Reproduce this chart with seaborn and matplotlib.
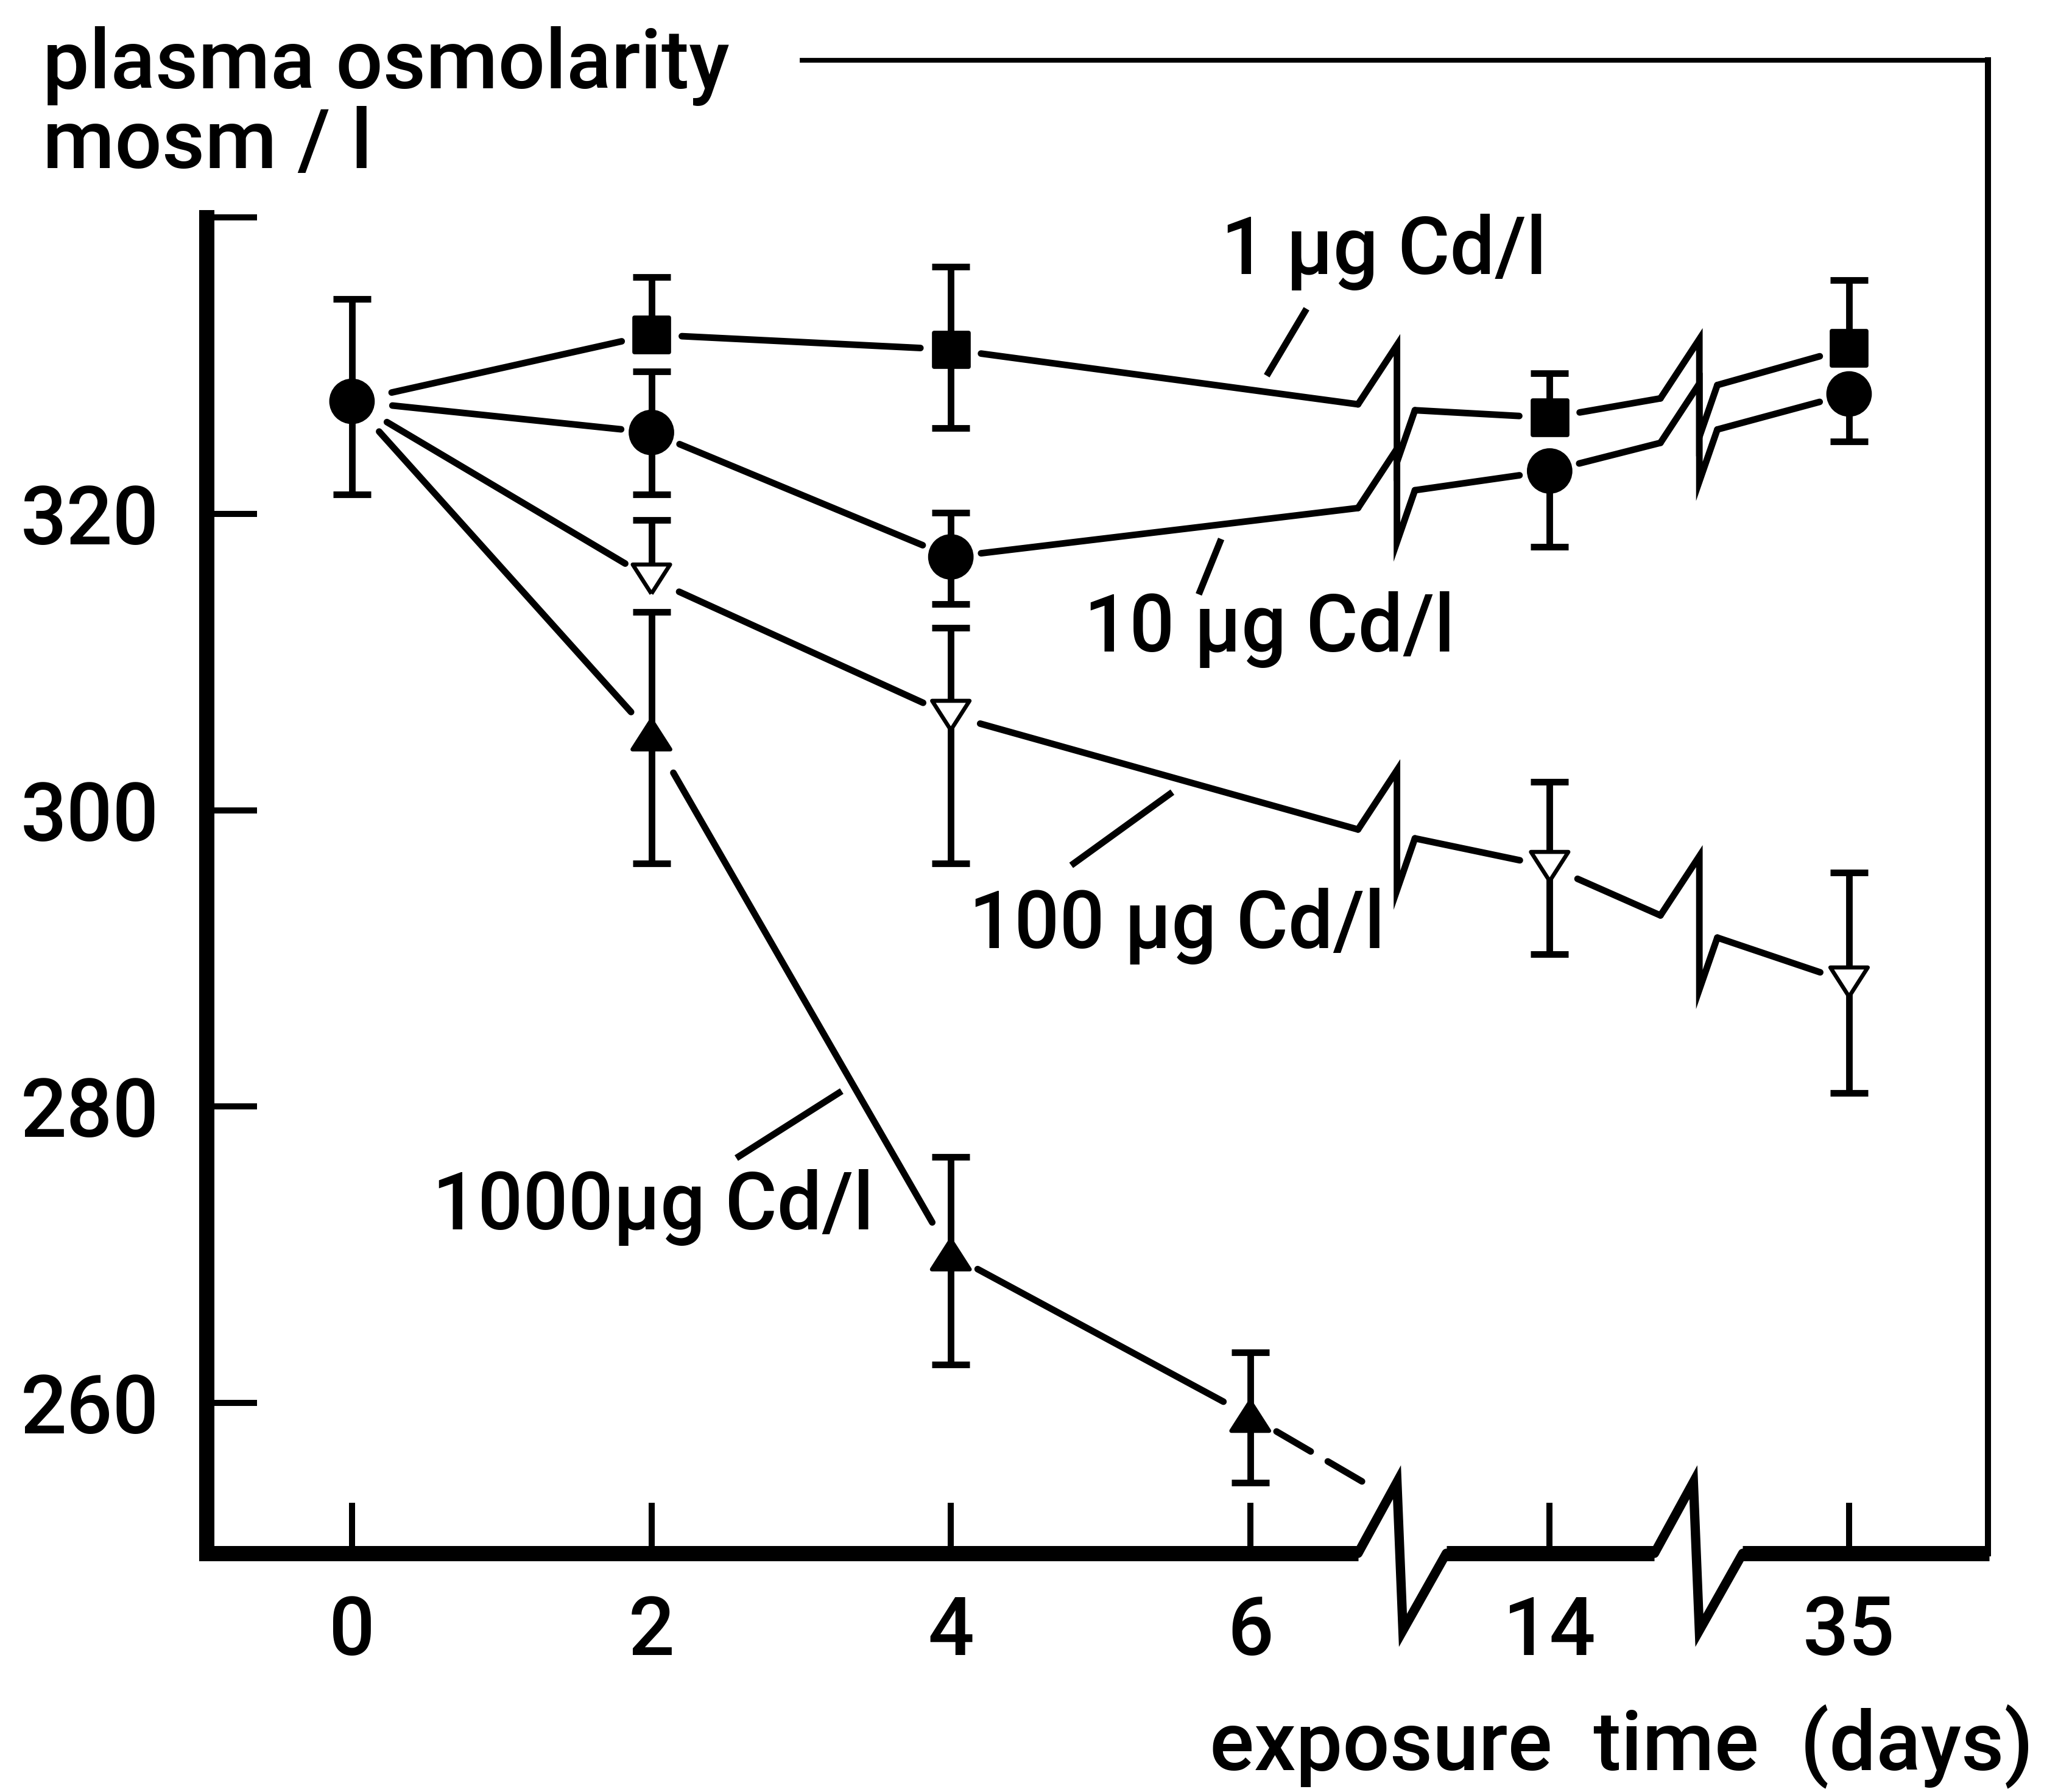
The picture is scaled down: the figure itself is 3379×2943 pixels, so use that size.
import numpy as np
import pandas as pd
import matplotlib
matplotlib.use("Agg")
import matplotlib.pyplot as plt
from matplotlib.markers import MarkerStyle
import seaborn as sns

# values (plasma osmolarity, mosm/l)
DAYS = [0, 2, 4, 6, 14, 35]
DAY_LABELS = ["0", "2", "4", "6", "14", "35"]
Y_TICKS = [260, 280, 300, 320, 340]
Y_TICK_LABELS = ["260", "280", "300", "320", ""]

control_days = [0]
control_val = [327.6]
control_hi = [6.9]
control_lo = [6.3]

cd1_days = [2, 4, 14, 35]
cd1_val = [332.1, 331.1, 326.5, 331.2]
cd1_hi = [3.9, 5.6, 3.0, 4.6]
cd1_lo = [0.0, 5.3, 0.0, 0.0]
cd1_breaks = [(327.4, 327.0), (327.8, 328.7)]   # line height left / right of the breaks

cd10_days = [2, 4, 14, 35]
cd10_val = [325.5, 317.1, 322.9, 328.1]
cd10_hi = [4.1, 3.0, 0.0, 0.0]
cd10_lo = [4.2, 3.2, 5.1, 3.2]
cd10_breaks = [(320.4, 321.6), (324.8, 325.7)]

cd100_days = [2, 4, 14, 35]
cd100_val = [315.6, 306.4, 296.2, 288.4]
cd100_hi = [4.0, 5.9, 5.7, 7.4]
cd100_lo = [0.0, 10.0, 5.9, 7.5]
cd100_breaks = [(298.7, 298.1), (292.9, 291.4)]

cd1000_days = [2, 4, 6]
cd1000_val = [305.1, 270.0, 259.1]
cd1000_hi = [8.3, 6.6, 4.3]
cd1000_lo = [8.7, 7.4, 4.5]
cd1000_tail = 254.2   # dashed line runs into the axis break

# layout / style
POS = {d: i for i, d in enumerate(DAYS)}
XLIM = (-0.486, 5.464)
YLIM = (249.84, 350.64)
BREAK_X = [3.36, 4.37]
TAIL_X = 3.415
LW = 3.9        # data lines
EW = 3.9        # error bars
GAP = 18        # pt gap between line ends and markers
GAP0 = 24
FS = 48
FW = "medium"

sns.set_style("ticks")
plt.rcParams.update({
    "font.family": ["Roboto", "DejaVu Sans"],
    "figure.facecolor": "white",
    "axes.facecolor": "white",
    "axes.edgecolor": "black",
    "axes.labelcolor": "black",
    "text.color": "black",
    "xtick.color": "black",
    "ytick.color": "black",
})

fig = plt.figure(figsize=(16.9, 14.715), dpi=200)
ax = fig.add_axes([0.1003, 0.1332, 0.8654, 0.8333])


def seg(a, b, sa=GAP, sb=GAP, ls="-"):
    ax.annotate("", xy=b, xytext=a, annotation_clip=False,
                arrowprops=dict(arrowstyle="-", shrinkA=sa, shrinkB=sb,
                                lw=LW, color="black", linestyle=ls))


def data_break(x, va, vb):
    ax.plot([x, x + 0.13, x + 0.13, x + 0.19], [va, va + 4.0, vb - 3.5, vb],
            color="black", lw=LW, solid_joinstyle="miter", zorder=2)


def errbars(days, vals, lo, hi):
    x = np.array([POS[d] for d in days], dtype=float)
    v, lo, hi = np.array(vals), np.array(lo), np.array(hi)
    ax.vlines(x, v - lo, v + hi, color="black", lw=EW, zorder=3)
    ax.plot(x[hi > 0], (v + hi)[hi > 0], ls="none", marker="_", ms=22,
            mew=EW, color="black", zorder=3)
    ax.plot(x[lo > 0], (v - lo)[lo > 0], ls="none", marker="_", ms=22,
            mew=EW, color="black", zorder=3)


ctrl = (POS[control_days[0]], control_val[0])

# connecting lines with the broken-axis zigzags
for days, vals, brks in [(cd1_days, cd1_val, cd1_breaks),
                         (cd10_days, cd10_val, cd10_breaks),
                         (cd100_days, cd100_val, cd100_breaks)]:
    pts = [(POS[d], v) for d, v in zip(days, vals)]
    seg(ctrl, pts[0], sa=GAP0)
    seg(pts[0], pts[1])
    for k, (bx, (va, vb)) in enumerate(zip(BREAK_X, brks)):
        seg(pts[1 + k], (bx, va), sb=0)
        data_break(bx, va, vb)
        seg((bx + 0.19, vb), pts[2 + k], sa=0)

pts = [(POS[d], v) for d, v in zip(cd1000_days, cd1000_val)]
seg(ctrl, pts[0], sa=GAP0)
seg(pts[0], pts[1], sa=26, sb=22)
seg(pts[1], pts[2])
seg(pts[2], (TAIL_X, cd1000_tail), sb=0, ls=(0, (6, 3)))

# error bars
for args in [(control_days, control_val, control_lo, control_hi),
             (cd1_days, cd1_val, cd1_lo, cd1_hi),
             (cd10_days, cd10_val, cd10_lo, cd10_hi),
             (cd100_days, cd100_val, cd100_lo, cd100_hi),
             (cd1000_days, cd1000_val, cd1000_lo, cd1000_hi)]:
    errbars(*args)

# markers through seaborn
rows = []
for name, days, vals in [("control", control_days, control_val),
                         ("1", cd1_days, cd1_val),
                         ("10", cd10_days, cd10_val),
                         ("100", cd100_days, cd100_val),
                         ("1000", cd1000_days, cd1000_val)]:
    for d, v in zip(days, vals):
        rows.append({"series": name, "pos": POS[d], "value": v})
df = pd.DataFrame(rows)

tri_up = MarkerStyle([(0, 0.78), (-1, -0.78), (1, -0.78), (0, 0.78)])
tri_dn = MarkerStyle([(0, -0.78), (-1, 0.78), (1, 0.78), (0, -0.78)])
sns.scatterplot(
    data=df, x="pos", y="value", hue="series", style="series", size="series",
    palette={"control": "black", "1": "black", "10": "black", "100": "white", "1000": "black"},
    markers={"control": "o", "1": "s", "10": "o", "100": tri_dn, "1000": tri_up},
    sizes={"control": 600, "1": 420, "10": 600, "100": 490, "1000": 500},
    edgecolor="black", linewidth=2.4, legend=False, ax=ax, zorder=4,
)

# frame: thick left axis, open top-left, broken bottom axis
ax.set_xlim(*XLIM)
ax.set_ylim(*YLIM)
ax.spines["left"].set_linewidth(9)
ax.spines["left"].set_bounds(YLIM[0], 340)
ax.spines["right"].set_linewidth(3.6)
ax.spines["top"].set_linewidth(2.8)
ax.spines["top"].set_bounds(1.503, XLIM[1])
ax.spines["bottom"].set_visible(False)

y0 = YLIM[0]
axis_kw = dict(color="black", clip_on=False, zorder=5)
ax.plot([XLIM[0] - 0.006, BREAK_X[0]], [y0, y0], lw=9, solid_capstyle="butt", **axis_kw)
ax.plot([3.655, 4.35], [y0, y0], lw=9, solid_capstyle="butt", **axis_kw)
ax.plot([4.645, XLIM[1] + 0.004], [y0, y0], lw=9, solid_capstyle="butt", **axis_kw)
for bx in [3.36, 4.35]:
    ax.plot([bx, bx + 0.13, bx + 0.15, bx + 0.295], [y0, y0 + 4.8, y0 - 5.2, y0],
            lw=5.5, solid_joinstyle="miter", **axis_kw)

ax.set_xticks(range(len(DAYS)))
ax.set_xticklabels(DAY_LABELS, fontweight=FW)
ax.set_yticks(Y_TICKS)
ax.set_yticklabels(Y_TICK_LABELS, fontweight=FW)
ax.tick_params(axis="x", direction="in", length=30, width=3.6, pad=24, labelsize=FS, top=False)
ax.tick_params(axis="y", direction="in", length=30, width=3.6, pad=28, labelsize=FS, right=False)

ax.set_ylabel("plasma osmolarity\nmosm / l", rotation=0, ha="left", va="top",
              fontsize=49, fontweight=FW, linespacing=1.0, multialignment="left")
ax.yaxis.set_label_coords(-0.092, 1.0226)
ax.set_xlabel("exposure  time  (days)", ha="right", va="baseline", fontsize=49, fontweight=FW)
ax.xaxis.set_label_coords(1.0256, -0.1448)

# curve labels with leader lines
labels = [
    ("1 µg Cd/l", (2.903, 336.2), [(3.188, 333.85), (3.055, 329.33)]),
    ("10 µg Cd/l", (2.445, 310.7), [(2.903, 318.31), (2.828, 314.57)]),
    ("100 µg Cd/l", (2.061, 290.7), [(2.740, 301.22), (2.402, 296.28)]),
    ("1000µg Cd/l", (0.2685, 271.7), [(1.2836, 276.52), (1.6355, 281.04)]),
]
for txt, (tx, ty), leader in labels:
    ax.text(tx, ty, txt, fontsize=47, fontweight=FW, ha="left", va="baseline")
    (xa, ya), (xb, yb) = leader
    ax.plot([xa, xb], [ya, yb], color="black", lw=LW, solid_capstyle="butt")

fig.savefig("out.png", dpi=200, facecolor="white")
